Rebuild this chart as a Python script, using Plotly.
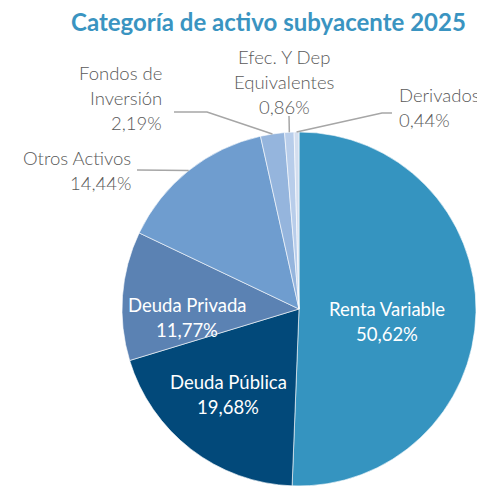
"""Pie chart: Categoría de activo subyacente 2025."""
import math
import plotly.graph_objects as go

# the page body keeps an 8px margin, so the figure is drawn 8px in from the corner
OFF = 8
W, H = 485 - OFF, 486 - OFF

categories = ["Renta Variable", "Deuda Pública", "Deuda Privada", "Otros Activos",
              "Fondos de Inversión", "Efec. Y Dep Equivalentes", "Derivados"]
values = [50.62, 19.68, 11.77, 14.44, 2.19, 0.86, 0.44]
colors = ["#3594c0", "#02497a", "#5b82b3", "#6f9dcf", "#95b5dd", "#b8cdea", "#d3deef"]

# label text lines (Spanish decimal comma)
label_lines = {
    "Renta Variable": ["Renta Variable"],
    "Deuda Pública": ["Deuda Pública"],
    "Deuda Privada": ["Deuda Privada"],
    "Otros Activos": ["Otros Activos"],
    "Fondos de Inversión": ["Fondos de", "Inversión"],
    "Efec. Y Dep Equivalentes": ["Efec. Y Dep", "Equivalentes"],
    "Derivados": ["Derivados"],
}

# pie geometry in window pixels
CX, CY, R = 299, 309, 177


def px(x, y):
    return (x - OFF) / W, 1 - (y - OFF) / H


dx0, dy1 = px(CX - R, CY - R)
dx1, dy0 = px(CX + R, CY + R)

fig = go.Figure(go.Pie(
    labels=categories, values=values,
    sort=False, direction="clockwise", rotation=0,
    marker=dict(colors=colors, line=dict(color="white", width=0.6)),
    textinfo="none", hoverinfo="label+percent",
    domain=dict(x=[dx0, dx1], y=[dy0, dy1]),
    showlegend=False,
))


def pct(v):
    return f"{v:.2f}%".replace(".", ",")


# label placement: (x, y of first line, anchor, inside?)
placement = {
    "Renta Variable": (387, 309, "center", True),
    "Deuda Pública": (228, 382, "center", True),
    "Deuda Privada": (187, 305, "center", True),
    "Otros Activos": (132, 158, "right", False),
    "Fondos de Inversión": (163, 73, "right", False),
    "Efec. Y Dep Equivalentes": (284, 57, "center", False),
    "Derivados": (398, 95, "left", False),
}

# leader line knees (pixel), end point computed from slice mid-angle
knees = {
    "Otros Activos": [(137, 170)],
    "Fondos de Inversión": [(174, 112), (207, 112)],
    "Efec. Y Dep Equivalentes": [(289, 116)],
    "Derivados": [(392, 113), (382, 113)],
}

total = sum(values)
cum = 0
annotations = []
shapes = []
for cat, v in zip(categories, values):
    mid = (cum + v / 2) / total * 2 * math.pi
    cum += v
    x0, y0, anchor, inside = placement[cat]
    lines = label_lines[cat] + [pct(v)]
    for i, line in enumerate(lines):
        ax, ay = px(x0, y0 + i * 25)
        annotations.append(dict(
            x=ax, y=ay, xref="paper", yref="paper", text=line, showarrow=False,
            xanchor=anchor, yanchor="middle", borderpad=0,
            font=dict(family="Lato", size=18.5, color="white", weight=400) if inside
            else dict(family="Lato", size=18.5, color="#595959", weight=300),
        ))
    if cat in knees:
        ex = CX + R * math.sin(mid)
        ey = CY - R * math.cos(mid)
        pts = knees[cat] + [(ex, ey)]
        path = "M " + " L ".join(f"{px(a, b)[0]:.4f},{px(a, b)[1]:.4f}" for a, b in pts)
        shapes.append(dict(type="path", path=path, xref="paper", yref="paper",
                           line=dict(color="#a6a6a6", width=1.5)))

tx, ty = px(268, 21)
annotations.append(dict(
    x=tx, y=ty, xref="paper", yref="paper", showarrow=False,
    text="Categoría de activo subyacente 2025", xanchor="center", yanchor="middle",
    font=dict(family="Lato", size=24, color="#3a94c1", weight=700),
))

fig.update_layout(
    width=W, height=H, margin=dict(l=0, r=0, t=0, b=0),
    paper_bgcolor="white", plot_bgcolor="white",
    annotations=annotations, shapes=shapes,
)
fig.write_html("out.html")
